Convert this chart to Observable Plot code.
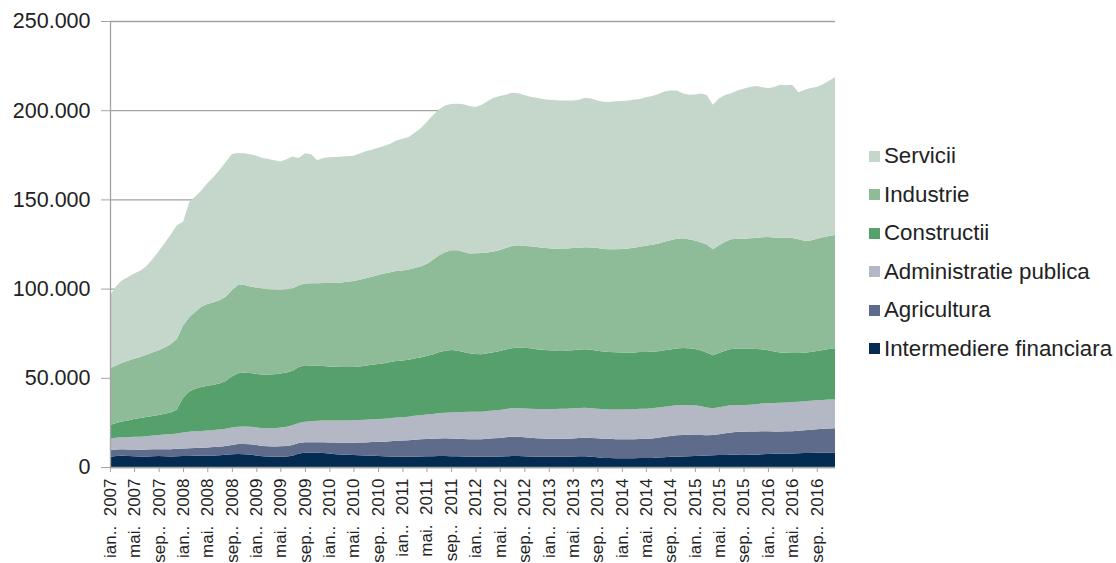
<!DOCTYPE html>
<html>
<head>
<meta charset="utf-8">
<script src="https://cdn.jsdelivr.net/npm/d3@7"></script>
<script src="https://cdn.jsdelivr.net/npm/@observablehq/plot@0.6"></script>
<style>
  html, body { margin: 0; padding: 0; background: #fff; }
  #wrap { position: relative; width: 1116px; height: 563px; overflow: hidden; font-family: Arial, "Liberation Sans", sans-serif; }
  #legend { position: absolute; left: 869px; top: 137px; color: #222; font-size: 22.3px; }
  .item { display: flex; align-items: center; height: 38.5px; white-space: nowrap; }
  .sw { width: 11px; height: 11px; margin-right: 4px; flex: none; }
</style>
</head>
<body>
<div id="wrap"><div id="legend"></div></div>
<script>
// Series, bottom to top of the stack
const seriesNames = ["Intermediere financiara", "Agricultura", "Administratie publica", "Constructii", "Industrie", "Servicii"];
const seriesColors = ["#042c52", "#5e6b8a", "#b4b8c4", "#56a06c", "#8fbc98", "#c5d6cb"];
const legendOrder = ["Servicii", "Industrie", "Constructii", "Administratie publica", "Agricultura", "Intermediere financiara"];

// Monthly values, Jan 2007 .. Dec 2016
const intermediere = [
  5800, 6200, 6300, 6100, 6000, 5900, 5900, 6000, 6100, 6000, 5900, 6000,
  6100, 6200, 6300, 6300, 6400, 6500, 6600, 6800, 7100, 7300, 7200, 7000,
  6400, 6000, 5900, 5800, 5800, 5900, 6300, 7500, 8000, 8100, 8000, 7800,
  7500, 7200, 7000, 6800, 6700, 6600, 6500, 6400, 6200, 6000, 5900, 5900,
  5800, 5800, 5900, 5900, 6000, 6000, 6100, 6100, 6000, 6000, 5900, 5900,
  5800, 5800, 5900, 5900, 5900, 6000, 6100, 6100, 6000, 5900, 5800, 5800,
  5700, 5700, 5800, 5800, 5900, 6000, 6000, 5800, 5400, 5100, 5000, 4900,
  4900, 4900, 4900, 5000, 5000, 5100, 5300, 5500, 5700, 5800, 5900, 6000,
  6100, 6300, 6400, 6600, 6700, 6700, 6800, 6800, 6700, 6800, 6900, 7100,
  7300, 7400, 7500, 7600, 7600, 7700, 7800, 7900, 8000, 8000, 8100, 8100
];
const agricultura = [
  3700, 3600, 3600, 3700, 3800, 3800, 3900, 3900, 3900, 4000, 4100, 4200,
  4300, 4300, 4400, 4500, 4600, 4700, 4800, 5000, 5300, 5600, 5700, 5800,
  5900, 5800, 5800, 5700, 5800, 5900, 6100, 6000, 5900, 5800, 5900, 6100,
  6300, 6500, 6600, 6800, 6900, 7100, 7300, 7600, 7900, 8200, 8500, 8800,
  9000, 9200, 9400, 9600, 9700, 9800, 9900, 10000, 10000, 9900, 9800, 9700,
  9700, 9800, 10000, 10200, 10400, 10700, 10900, 10900, 10700, 10500, 10300, 10200,
  10200, 10100, 10100, 10000, 10100, 10200, 10400, 10500, 10700, 10800, 10800, 10700,
  10600, 10600, 10700, 10700, 10800, 10900, 11100, 11400, 11700, 12000, 12100, 12100,
  11900, 11600, 11400, 11300, 11700, 12200, 12600, 12900, 13000, 13100, 13000, 12900,
  12700, 12500, 12400, 12400, 12500, 12600, 12800, 13000, 13200, 13400, 13500, 13600
];
const administratie = [
  6500, 6600, 6800, 6900, 7100, 7300, 7500, 7700, 8000, 8200, 8400, 8600,
  8900, 9300, 9400, 9400, 9500, 9500, 9600, 9600, 9700, 9700, 9800, 9800,
  9900, 9900, 10000, 10200, 10500, 10800, 11000, 11200, 11500, 11800, 12000, 12100,
  12200, 12300, 12400, 12500, 12600, 12700, 12700, 12700, 12800, 12800, 12900, 13000,
  13100, 13200, 13400, 13500, 13700, 13900, 14100, 14300, 14500, 14800, 15100, 15300,
  15400, 15400, 15500, 15600, 15700, 15800, 15900, 16000, 16100, 16300, 16400, 16500,
  16600, 16700, 16800, 16900, 16900, 16900, 16800, 16700, 16600, 16500, 16500, 16600,
  16700, 16800, 16800, 16900, 16900, 16900, 16900, 16900, 16800, 16800, 16800, 16700,
  16600, 16200, 15600, 15000, 15100, 15200, 15300, 15100, 14900, 15000, 15300, 15600,
  15800, 16000, 16100, 16200, 16300, 16300, 16300, 16200, 16200, 16200, 16200, 16200
];
const constructii = [
  7500, 8200, 8800, 9400, 10000, 10400, 10700, 11000, 11200, 11600, 12200, 13400,
  19500, 22500, 23800, 24600, 25000, 25400, 25800, 26800, 28600, 30000, 30200, 30100,
  30000, 30100, 30200, 30300, 30300, 30400, 30600, 31300, 31600, 31200, 30800, 30600,
  30400, 30200, 30100, 30000, 29900, 30000, 30300, 30600, 30900, 31200, 31500, 31700,
  31800, 31900, 32100, 32400, 32800, 33400, 34200, 34800, 35100, 34600, 33600, 32800,
  32400, 32200, 32300, 32600, 33000, 33400, 33700, 34000, 34000, 33800, 33500, 33200,
  33000, 32800, 32700, 32600, 32600, 32700, 32800, 32700, 32500, 32300, 32200, 32100,
  32000, 31900, 31800, 31800, 31800, 31700, 31600, 31600, 31700, 31800, 31900, 31800,
  31600, 31200, 30800, 29800, 30400, 31000, 31400, 31600, 31800, 31500, 31000, 30400,
  29600, 28800, 28200, 27800, 27500, 27300, 27100, 27300, 27600, 28000, 28300, 28600
];
const industrie = [
  31800, 32300, 32900, 33400, 33800, 34300, 34900, 35600, 36300, 37200, 38300, 39500,
  40600, 41700, 43000, 45000, 45800, 46300, 46700, 47300, 48400, 49400, 49200, 48500,
  48400, 48200, 47800, 47300, 46800, 46600, 46200, 45900, 45800, 46100, 46300, 46500,
  46800, 47000, 47300, 47700, 48200, 48600, 49000, 49400, 49800, 50300, 50400, 50500,
  50500, 50600, 50700, 51000, 51600, 53000, 54300, 55200, 55900, 56200, 56200, 56000,
  56500, 56700, 56600, 56500, 56600, 56900, 57300, 57300, 57100, 57200, 57300, 57200,
  57100, 57000, 57100, 57200, 57200, 57100, 57200, 57400, 57500, 57500, 57600, 57800,
  58000, 58300, 58700, 59100, 59500, 60000, 60300, 60800, 61200, 61600, 61500, 61000,
  60800, 60600, 60500, 59300, 60400, 61200, 61500, 61600, 61600, 61800, 62200, 62800,
  63500, 64000, 64300, 64500, 64400, 63800, 62800, 62600, 62900, 63200, 63400, 63500
];
const servicii = [
  41000, 44600, 46100, 47000, 47800, 48300, 49600, 52300, 55500, 58500, 61600, 63800,
  58100, 64500, 64600, 65200, 67700, 70100, 73000, 75500, 76400, 74000, 73700, 74100,
  73900, 73200, 72900, 72700, 72100, 72900, 73800, 71300, 73000, 72300, 69000, 70100,
  70400, 70600, 70600, 70400, 70200, 70700, 71200, 71100, 71400, 71500, 72000, 73100,
  73800, 74300, 75700, 77300, 79400, 80900, 81700, 82300, 82000, 82100, 82800, 82600,
  82000, 83100, 84700, 86200, 86400, 85900, 85900, 85200, 84600, 83900, 83700, 83400,
  83200, 83300, 83000, 83000, 82700, 82900, 83800, 83400, 82800, 82600, 82500, 82900,
  83000, 83000, 82900, 82800, 83200, 83400, 83800, 84300, 83900, 83000, 81300, 81000,
  81800, 83400, 83800, 81000, 82200, 82200, 81900, 83000, 84000, 84800, 85100, 84200,
  83400, 84300, 85800, 85500, 86000, 82300, 84500, 85500, 85100, 85700, 87000, 88600
];

// Axis labels
const monthAbbr = ["ian.", "feb.", "mar.", "apr.", "mai", "iun.", "iul.", "aug.", "sep.", "oct.", "nov.", "dec."];
const yTicks = [0, 50000, 100000, 150000, 200000, 250000];

const start = new Date(Date.UTC(2007, 0, 1));
const end = new Date(Date.UTC(2016, 11, 1));
const months = d3.utcMonth.range(start, new Date(Date.UTC(2017, 0, 1)));
const seriesValues = [intermediere, agricultura, administratie, constructii, industrie, servicii];

const rows = [];
seriesNames.forEach((name, si) => {
  months.forEach((d, i) => rows.push({date: d, series: name, value: seriesValues[si][i]}));
});

const locale = d3.formatLocale({decimal: ",", thousands: ".", grouping: [3], currency: ["", ""]});
const fmtY = locale.format(",");
const fmtX = d => monthAbbr[d.getUTCMonth()] + ".  " + d.getUTCFullYear();
const xTicks = d3.utcMonth.every(4).range(start, new Date(Date.UTC(2017, 0, 1)));

const chart = Plot.plot({
  width: 1116,
  height: 563,
  marginLeft: 110,
  marginRight: 281,
  marginTop: 21,
  marginBottom: 96,
  style: {fontFamily: "Arial, 'Liberation Sans', sans-serif", background: "transparent", overflow: "visible"},
  x: {type: "utc", domain: [start, end]},
  y: {domain: [0, 250000]},
  color: {domain: seriesNames, range: seriesColors},
  marks: [
    Plot.gridY(yTicks, {stroke: "#a3a3a3", strokeOpacity: 1, strokeWidth: 1.3}),
    Plot.areaY(rows, {x: "date", y: "value", z: "series", fill: "series", order: seriesNames}),
    Plot.ruleX([start], {stroke: "#a3a3a3", strokeWidth: 1.3}),
    Plot.ruleY([0], {stroke: "#a3a3a3", strokeWidth: 1.3}),
    Plot.axisY(yTicks, {tickFormat: fmtY, tickSize: 9, tickPadding: 11, fontSize: 21.5, stroke: "#a3a3a3", fill: "#222", label: null}),
    Plot.axisX(xTicks, {tickFormat: fmtX, tickRotate: -90, tickSize: 5, tickPadding: 6, fontSize: 17, stroke: "#a3a3a3", fill: "#222", label: null, style: {whiteSpace: "pre"}})
  ]
});
document.getElementById("wrap").prepend(chart);

const legend = document.getElementById("legend");
legendOrder.forEach(name => {
  const item = document.createElement("div");
  item.className = "item";
  const sw = document.createElement("span");
  sw.className = "sw";
  sw.style.background = seriesColors[seriesNames.indexOf(name)];
  const label = document.createElement("span");
  label.textContent = name;
  item.append(sw, label);
  legend.append(item);
});
</script>
</body>
</html>
